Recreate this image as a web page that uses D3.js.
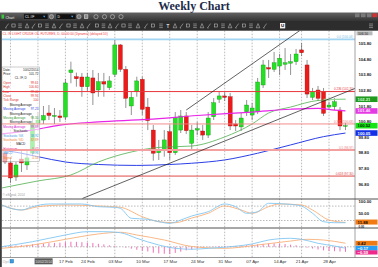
<!DOCTYPE html>
<html lang="en">
<head>
    <meta charset="UTF-8">
    <title>Weekly Chart</title>
    <script src="https://d3js.org/d3.v7.min.js"></script>
    <style>
        body { margin: 0; padding: 0; background-color: #ffffff; }
        #chart { display: block; font-family: 'Liberation Sans', Arial, sans-serif; }
    </style>
</head>
<body>
<svg id="chart" width="378" height="267"></svg>
<script>
    // daily bars, 31 Jan - 1 May 2014
    const days = ["2014-01-31",
        "2014-02-03","2014-02-04","2014-02-05","2014-02-06","2014-02-07",
        "2014-02-10","2014-02-11","2014-02-12","2014-02-13","2014-02-14",
        "2014-02-18","2014-02-19","2014-02-20","2014-02-21",
        "2014-02-24","2014-02-25","2014-02-26","2014-02-27","2014-02-28",
        "2014-03-03","2014-03-04","2014-03-05","2014-03-06","2014-03-07",
        "2014-03-10","2014-03-11","2014-03-12","2014-03-13","2014-03-14",
        "2014-03-17","2014-03-18","2014-03-19","2014-03-20","2014-03-21",
        "2014-03-24","2014-03-25","2014-03-26","2014-03-27","2014-03-28",
        "2014-03-31","2014-04-01","2014-04-02","2014-04-03","2014-04-04",
        "2014-04-07","2014-04-08","2014-04-09","2014-04-10","2014-04-11",
        "2014-04-14","2014-04-15","2014-04-16","2014-04-17",
        "2014-04-21","2014-04-22","2014-04-23","2014-04-24","2014-04-25",
        "2014-04-28","2014-04-29","2014-04-30","2014-05-01"];

    const opens  = [98.77, 98.14, 97.24, 98.39, 98.01, 98.77, 100.69, 100.88, 101.33, 101.11, 101.14,
        101.07, 103.91, 103.65, 103.63, 103.01, 103.57, 102.80, 103.33, 102.95, 103.80, 105.68, 104.12,
        101.78, 102.69, 103.48, 101.71, 100.24, 98.79, 98.97, 100.14, 98.79, 100.24, 101.14, 99.39,
        100.24, 100.18, 99.92, 101.09, 102.21, 102.42, 102.37, 100.63, 100.44, 101.41, 101.20, 101.41,
        103.12, 104.23, 104.12, 104.33, 104.44, 104.51, 104.61, 105.36, 104.40, 102.33, 102.80, 102.69,
        101.71, 101.73, 101.52, 100.48];
    const highs  = [98.97, 98.46, 98.20, 98.97, 98.97, 101.20, 101.39, 101.78, 101.84, 101.65, 101.52,
        103.50, 104.61, 103.91, 103.89, 103.89, 104.08, 103.89, 103.89, 103.69, 105.99, 105.74, 104.33,
        102.69, 103.65, 103.65, 102.29, 100.56, 99.61, 100.24, 100.56, 101.39, 101.52, 101.39, 100.56,
        100.76, 100.56, 101.39, 102.29, 102.67, 102.67, 102.61, 100.88, 101.33, 102.16, 101.97, 103.57,
        104.72, 104.72, 105.23, 105.10, 105.48, 105.10, 105.42, 105.80, 104.72, 102.93, 103.06, 102.93,
        102.05, 102.29, 101.71, 100.69];
    const lows   = [98.07, 96.86, 96.99, 97.56, 97.69, 98.58, 100.44, 100.63, 100.88, 100.63, 100.76,
        100.88, 103.23, 103.01, 102.37, 102.69, 101.84, 102.37, 102.37, 102.80, 103.63, 103.95, 101.65,
        101.20, 102.37, 101.20, 100.24, 98.28, 98.33, 98.54, 98.33, 98.65, 100.05, 99.99, 98.97,
        99.92, 99.61, 99.73, 100.88, 101.97, 102.10, 100.24, 100.18, 100.18, 101.14, 100.88, 101.27,
        102.93, 103.57, 103.95, 103.76, 104.08, 103.76, 104.40, 104.97, 102.29, 102.16, 102.10, 101.14,
        101.52, 101.52, 100.24, 100.24];
    const closes = [98.20, 97.18, 98.01, 98.14, 98.46, 100.69, 100.88, 101.17, 101.17, 101.17, 101.04,
        103.25, 104.08, 103.52, 103.01, 103.63, 102.61, 103.33, 103.18, 103.38, 105.68, 104.12, 102.27,
        102.33, 103.38, 101.57, 100.84, 98.76, 98.92, 99.61, 98.79, 101.06, 101.14, 100.20, 100.24,
        100.33, 99.92, 101.01, 101.99, 102.42, 102.33, 100.50, 100.50, 101.01, 101.84, 101.65, 103.31,
        104.40, 104.14, 104.54, 104.83, 104.54, 104.61, 105.10, 105.18, 102.54, 102.69, 102.27, 101.31,
        101.84, 102.05, 100.50, 100.52];

    // moving averages: [bar index, price]
    const maBlue = [[-0.6, 98.97], [3, 98.76], [6, 98.54], [11, 98.20], [17, 98.04], [24, 97.98], [30, 98.04],
        [34, 98.12], [40, 98.33], [46, 98.76], [52, 99.29], [58, 99.82], [62, 100.05]];
    const maGreen = [[-0.6, 96.54], [6, 96.99], [12, 97.37], [17, 98.20], [23, 98.84], [28, 99.13], [34, 99.22],
        [40, 99.80], [45, 100.63], [48, 101.33], [52, 101.71], [57, 102.13], [62, 102.21]];
    const maMagenta = [[-0.6, 99.99], [5, 100.24], [10, 100.56], [17, 100.76], [26, 100.92], [35, 101.17],
        [45, 101.39], [52, 101.57], [57, 101.63], [60, 101.52], [62, 101.46]];

    // stochastic %K / %D
    const stochK = [[-0.6, 84.6], [1, 70.8], [3, 63.8], [5, 77.5], [8, 88.8], [14, 88.8], [17, 77.5], [20, 75],
        [21, 70.8], [23, 29.2], [26, 25], [28, 15], [30, 8.3], [32, 22], [34, 38.8], [37, 56.7], [40, 88.8],
        [42, 77.5], [44, 50], [46, 56.7], [48, 91.7], [51, 88.8], [53, 84.6], [54, 80.4], [56, 50], [58, 15],
        [60, 10.8], [62, 10.8]];
    const stochD = [[-0.6, 84.6], [3, 63.8], [6, 77.5], [11, 84.6], [17, 80.4], [21, 75], [25, 35.8], [28, 15],
        [31, 10.8], [34, 30.4], [37, 50], [40, 80.4], [43, 63.8], [45, 50], [48, 77.5], [50, 88.8], [54, 84.6],
        [56, 63.8], [59, 22], [62, 11.88]];

    // MACD, signal and histogram
    const macdLine = [[-0.6, 0.01], [5, 0.60], [11, 1.39], [15, 1.78], [18, 1.78], [21, 1.66], [24, 1.0], [28, 0.21],
        [31, -0.18], [34, -0.29], [37, -0.18], [41, 0.01], [45, 0.33], [48, 0.80], [52, 1.0], [54, 0.88],
        [57, 0.41], [60, 0.09], [62, -0.17]];
    const macdSignal = [[-0.6, -0.18], [5, 0.21], [11, 0.88], [17, 1.51], [21, 1.71], [24, 1.39], [29, 0.80],
        [34, 0.04], [40, -0.18], [46, 0.21], [52, 0.68], [55, 0.88], [58, 0.80], [62, 0.42]];
    const macdHist = [0.10, 0.12, 0.15, 0.18, 0.22, 0.30, 0.35, 0.38, 0.42, 0.45, 0.48, 0.55, 0.60, 0.58, 0.55,
        0.50, 0.45, 0.35, 0.28, 0.18, 0.12, 0.02, -0.10, -0.22, -0.35, -0.45, -0.55, -0.70, -0.78, -0.82, -0.85,
        -0.72, -0.58, -0.42, -0.32, -0.22, -0.12, -0.05, 0.03, 0.08, 0.10, 0.08, 0.10, 0.14, 0.18, 0.22, 0.28,
        0.34, 0.38, 0.40, 0.38, 0.32, 0.25, 0.18, 0.06, -0.10, -0.20, -0.32, -0.42, -0.48, -0.52, -0.56, -0.59];

    // fibonacci levels and drawn lines
    const fibLevels = ["0.236", "0.382", "0.5", "0.618"];
    const fibPrices = [102.70, 100.63, 98.97, 97.30];
    const topLinePrice = 106.04;
    const upperTrend = [[33, 101.52], [53.8, 106.63]];
    const lowerTrend = [[14.1, 95.87], [63.8, 102.91]];

    // weekly gridlines; the first two date labels sit under the legend / cursor tag
    const gridDays = ["2014-02-03", "2014-02-10", "2014-02-18", "2014-02-24", "2014-03-03", "2014-03-10",
        "2014-03-17", "2014-03-24", "2014-03-31", "2014-04-07", "2014-04-14", "2014-04-21", "2014-04-28"];
    const labelDays = gridDays.slice(2);
    const tickLabels = ["17 Feb", "24 Feb", "03 Mar", "10 Mar", "17 Mar", "24 Mar",
        "31 Mar", "07 Apr", "14 Apr", "21 Apr", "28 Apr"];
    const priceTicks = [96.80, 97.80, 98.80, 99.80, 100.80, 101.80, 102.80, 103.80, 104.80, 105.80];
    const stochTicks = [50, 100];
    const stochLevels = [20, 80];

    const windowLabels = ["Date", "Price", "CL #F, D", "Open", "High", "Low", "Close", "Tick Range",
        "Moving Average", "Moving Average", "Moving Average", "Moving Average", "Moving Average", "Moving Average",
        "Stochastic", "Stochastic %K", "Stochastic %D", "MACD", "Histogram", "MACD", "Signal"];
    const windowValues = ["10/02/2014", "101.72", "", "99.61", "100.60", "99.44", "99.94", "100",
        "", "97.23", "", "98.30", "", "99.89", "", "38.92", "32.89", "", "0.42", "0.96", "0.54"];

    const W = 378, H = 267;
    const plotL = 2, plotR = 355;
    const pTop = 30.7, pBot = 199, sBot = 228, mBot = 257.5;

    const svg = d3.select("#chart");
    const defs = svg.append("defs");
    const fmt = d3.format(".2f");

    const x = d3.scaleLinear().domain([0, days.length - 1]).range([5, 345.5]);
    const yP = d3.scaleLinear().domain([96.80, 105.80]).range([183.9, 43.05]);
    const yS = d3.scaleLinear().domain([0, 100]).range([225.3, 201.3]);
    const yM = d3.scaleLinear().domain([0, 1]).range([246.8, 238.3]);

    function clip(id, y0, y1) {
        defs.append("clipPath").attr("id", id).append("rect")
            .attr("x", plotL).attr("y", y0).attr("width", plotR - plotL).attr("height", y1 - y0);
    }
    clip("clipP", pTop, pBot);
    clip("clipS", pBot, sBot);
    clip("clipM", sBot, mBot);

    svg.append("rect").attr("width", W).attr("height", H).attr("fill", "#ffffff");

    // weekly gridlines
    const gi = gridDays.map(d => days.indexOf(d));
    svg.append("g").selectAll("line").data(gi).join("line")
        .attr("x1", d => x(d)).attr("x2", d => x(d)).attr("y1", pTop).attr("y2", mBot)
        .attr("stroke", "#8c8c8c").attr("stroke-width", 0.6).attr("stroke-dasharray", "1.5,1.5");

    // price panel
    const pg = svg.append("g").attr("clip-path", "url(#clipP)");
    const bars = days.map((d, i) => ({i: i, o: opens[i], h: highs[i], l: lows[i], c: closes[i]}));

    pg.selectAll("line.wick").data(bars).join("line").attr("class", "wick")
        .attr("x1", d => x(d.i)).attr("x2", d => x(d.i))
        .attr("y1", d => yP(d.h)).attr("y2", d => yP(d.l))
        .attr("stroke", "#4a4a4a").attr("stroke-width", 0.6);

    pg.selectAll("rect.body").data(bars).join("rect").attr("class", "body")
        .attr("x", d => x(d.i) - 2).attr("width", 4)
        .attr("y", d => yP(Math.max(d.o, d.c)))
        .attr("height", d => Math.max(0.7, Math.abs(yP(d.o) - yP(d.c))))
        .attr("fill", d => d.c >= d.o ? "#22e022" : "#ee1a1a")
        .attr("stroke", d => d.c >= d.o ? "#0c8c0c" : "#9a0c0c")
        .attr("stroke-width", 0.35);

    const lineP = d3.line().x(d => x(d[0])).y(d => yP(d[1])).curve(d3.curveMonotoneX);
    [[maBlue, "#2b3fe6", 1], [maGreen, "#4fb04f", 0.8], [maMagenta, "#e825e8", 1.2]].forEach(m => {
        pg.append("path").attr("d", lineP(m[0])).attr("fill", "none")
            .attr("stroke", m[1]).attr("stroke-width", m[2]);
    });
    const lastGreen = maGreen[maGreen.length - 1];
    pg.append("line").attr("x1", x(58)).attr("x2", x(lastGreen[0]))
        .attr("y1", yP(lastGreen[1])).attr("y2", yP(lastGreen[1]))
        .attr("stroke", "#a4e2a4").attr("stroke-width", 1.2);

    // data window
    const box = svg.append("g");
    box.append("rect").attr("x", 2).attr("y", 67).attr("width", 37.5).attr("height", 94.5)
        .attr("fill", "#ffffff").attr("fill-opacity", 0.62).attr("stroke", "#9a9a9a").attr("stroke-width", 0.5);
    const red = "#e03030";
    const rowColors = ["#222", "#222", "#222", red, red, red, red, red, "#222", "#2b3fe6", "#222", "#3a9a3a",
        "#222", "#d020d0", "#222", "#3a9ae0", "#f08030", "#222", "#f0288c", "#3a9ae0", "#f08030"];
    windowLabels.forEach((lab, k) => {
        const yy = 70.6 + k * 4.4;
        const centre = windowValues[k] === "";
        box.append("text").attr("x", centre ? 20.7 : 3.3).attr("y", yy)
            .attr("text-anchor", centre ? "middle" : "start")
            .attr("font-size", 3.1).attr("fill", rowColors[k]).text(lab);
        if (!centre) {
            box.append("text").attr("x", 38.4).attr("y", yy).attr("text-anchor", "end")
                .attr("font-size", 3.1).attr("fill", rowColors[k]).text(windowValues[k]);
        }
    });

    // fib levels, horizontal and trend lines
    const fg = svg.append("g").attr("clip-path", "url(#clipP)");
    fg.append("line").attr("x1", plotL).attr("x2", plotR).attr("y1", yP(topLinePrice)).attr("y2", yP(topLinePrice))
        .attr("stroke", "#a2d4f4").attr("stroke-width", 1.8);
    fg.append("text").attr("x", 353).attr("y", yP(topLinePrice) - 1.3).attr("text-anchor", "end")
        .attr("font-size", 3).attr("fill", "#7cbce6").text("0.0 (" + fmt(topLinePrice) + ")");
    const fibColors = ["#e8353a", "#f08080", "#f5a0a0", "#e04848"];
    const fibText = ["#e8353a", "#ee7070", "#e98080", "#e04848"];
    const fibWidths = [1, 0.9, 2, 1];
    fibPrices.forEach((p, k) => {
        fg.append("line").attr("x1", plotL).attr("x2", plotR).attr("y1", yP(p)).attr("y2", yP(p))
            .attr("stroke", fibColors[k]).attr("stroke-width", fibWidths[k]);
        fg.append("text").attr("x", 353.5).attr("y", yP(p) - 1.4).attr("text-anchor", "end")
            .attr("font-size", 3).attr("fill", fibText[k]).text(fibLevels[k] + " (" + fmt(p) + ")");
    });
    const lineT = d3.line().x(d => x(d[0])).y(d => yP(d[1]));
    [upperTrend, lowerTrend].forEach(t => {
        fg.append("path").attr("d", lineT(t)).attr("fill", "none")
            .attr("stroke", "#1e1e1e").attr("stroke-width", 0.7);
    });

    svg.append("text").attr("x", 2.6).attr("y", 34.7).attr("font-size", 3.2).attr("fill", "#f03c3c")
        .text("CL #F LIGHT CRUDE OIL FUTURES, D, 00:00:00 (Dynamic) (delayed 10)");
    svg.append("text").attr("x", 2.6).attr("y", 196).attr("font-size", 3.1).attr("fill", "#9a9a9a")
        .text("\u00a9 eSignal, 2014");

    // stochastic panel
    const sg = svg.append("g").attr("clip-path", "url(#clipS)");
    sg.selectAll("line").data(stochLevels).join("line")
        .attr("x1", plotL).attr("x2", plotR).attr("y1", d => yS(d)).attr("y2", d => yS(d))
        .attr("stroke", "#8c8c8c").attr("stroke-width", 0.6).attr("stroke-dasharray", "1.5,1.5");
    const lineS = d3.line().x(d => x(d[0])).y(d => yS(d[1])).curve(d3.curveMonotoneX);
    sg.append("path").attr("d", lineS(stochD)).attr("fill", "none").attr("stroke", "#f7b07a").attr("stroke-width", 0.9);
    sg.append("path").attr("d", lineS(stochK)).attr("fill", "none").attr("stroke", "#82c6f2").attr("stroke-width", 0.9);

    // MACD panel
    const mg = svg.append("g").attr("clip-path", "url(#clipM)");
    mg.append("line").attr("x1", plotL).attr("x2", plotR).attr("y1", yM(0)).attr("y2", yM(0))
        .attr("stroke", "#8c8c8c").attr("stroke-width", 0.6).attr("stroke-dasharray", "1.5,1.5");
    mg.selectAll("line.hist").data(macdHist).join("line").attr("class", "hist")
        .attr("x1", (d, i) => x(i)).attr("x2", (d, i) => x(i))
        .attr("y1", yM(0)).attr("y2", d => yM(d))
        .attr("stroke", "#f060b0").attr("stroke-width", 0.9);
    const lineM = d3.line().x(d => x(d[0])).y(d => yM(d[1])).curve(d3.curveMonotoneX);
    mg.append("path").attr("d", lineM(macdSignal)).attr("fill", "none").attr("stroke", "#f7b07a").attr("stroke-width", 0.9);
    mg.append("path").attr("d", lineM(macdLine)).attr("fill", "none").attr("stroke", "#82c6f2").attr("stroke-width", 0.9);

    // frame lines
    svg.append("line").attr("x1", plotR).attr("x2", plotR).attr("y1", pTop).attr("y2", mBot)
        .attr("stroke", "#8a8a8a").attr("stroke-width", 0.8);
    [pBot, sBot].forEach(yy => {
        svg.append("line").attr("x1", plotL).attr("x2", W).attr("y1", yy).attr("y2", yy)
            .attr("stroke", "#505050").attr("stroke-width", 1);
    });
    svg.append("line").attr("x1", plotL).attr("x2", W).attr("y1", mBot).attr("y2", mBot)
        .attr("stroke", "#6a6a6a").attr("stroke-width", 0.7);
    svg.append("rect").attr("x", 0).attr("y", pTop).attr("width", 1.8).attr("height", H - pTop).attr("fill", "#3c3c3c");

    // right axes
    function styleAxis(g) {
        g.select(".domain").remove();
        g.attr("font-size", 4.2).attr("font-family", "'Liberation Sans', Arial, sans-serif")
            .attr("font-weight", "bold");
        g.selectAll("text").attr("fill", "#222");
    }
    svg.append("g").attr("transform", `translate(${plotR},0)`)
        .call(d3.axisRight(yP).tickValues(priceTicks).tickFormat(fmt).tickSize(0).tickPadding(3.5))
        .call(styleAxis);
    svg.append("g").attr("transform", `translate(${plotR},0)`)
        .call(d3.axisRight(yS).tickValues(stochTicks).tickFormat(fmt).tickSize(0).tickPadding(3.5))
        .call(styleAxis);
    // the 0.00 label peeks out just under the %D tag
    svg.append("text").attr("x", 358.5).attr("y", 227.9).attr("font-size", 2.9).attr("font-weight", "bold")
        .attr("fill", "#222").text(fmt(0));

    svg.append("rect").attr("x", 356.5).attr("y", 31.3).attr("width", 16).attr("height", 4)
        .attr("fill", "#b8b8b8");
    svg.append("text").attr("x", 358).attr("y", 34.5).attr("font-size", 3.3).attr("fill", "#222").text("106.50");

    function tag(yy, value, bg, fg, h) {
        h = h || 5.6;
        svg.append("rect").attr("x", 355.5).attr("y", yy - h / 2).attr("width", 22).attr("height", h).attr("fill", bg);
        svg.append("text").attr("x", 357.6).attr("y", yy + 1.5).attr("font-size", 4.2).attr("font-weight", "bold")
            .attr("fill", fg).text(fmt(value));
    }
    const last = a => a[a.length - 1][1];
    tag(yP(last(maGreen)), last(maGreen), "#1e9a1e", "#d6ffd6");
    tag(yP(last(maMagenta)), last(maMagenta), "#e43ce4", "#ffe0ff");
    tag(yP(closes[closes.length - 1]), closes[closes.length - 1], "#16e416", "#002200");
    tag(yP(last(maBlue)), last(maBlue), "#1230e8", "#ffffff");
    tag(yS(last(stochD)) - 0.4, last(stochD), "#f27a12", "#1a0a00", 5);
    tag(yM(last(macdSignal)), last(macdSignal), "#f27a12", "#1a0a00", 4.8);
    tag(yM(last(macdLine)), last(macdLine), "#2a9df4", "#ffffff", 4.8);
    tag(yM(macdHist[macdHist.length - 1]) + 0.6, macdHist[macdHist.length - 1], "#f0288c", "#ffffff", 4.2);

    // date axis
    const li = labelDays.map(d => days.indexOf(d));
    svg.append("g").attr("transform", `translate(0,${mBot})`)
        .call(d3.axisBottom(x).tickValues(li).tickFormat((d, k) => tickLabels[k]).tickSize(0).tickPadding(2.2))
        .call(g => {
            g.select(".domain").remove();
            g.attr("font-size", 4.4).attr("font-family", "'Liberation Sans', Arial, sans-serif");
            g.selectAll("text").attr("fill", "#333");
        });
    svg.append("text").attr("x", 2.6).attr("y", 262.6).attr("font-size", 3.8).attr("fill", "#aaaaaa").text("Opt");
    svg.append("rect").attr("x", 10).attr("y", 259.4).attr("width", 3.6).attr("height", 3.6)
        .attr("fill", "#3b9de0").attr("stroke", "#1a6aa0").attr("stroke-width", 0.4);
    svg.append("rect").attr("x", 34.6).attr("y", 258.3).attr("width", 18).attr("height", 6).attr("fill", "#5a5a5a");
    svg.append("text").attr("x", 43.6).attr("y", 262.6).attr("text-anchor", "middle").attr("font-size", 3.3)
        .attr("fill", "#e8e8e8").text("10/02/2014");

    // toolbar
    const grad = defs.append("linearGradient").attr("id", "tbTop").attr("x1", 0).attr("y1", 0).attr("x2", 0).attr("y2", 1);
    grad.append("stop").attr("offset", "0%").attr("stop-color", "#626262");
    grad.append("stop").attr("offset", "100%").attr("stop-color", "#343434");
    const tb = svg.append("g");
    tb.append("rect").attr("x", 0).attr("y", 12.5).attr("width", W).attr("height", 8.5).attr("fill", "url(#tbTop)");
    tb.append("rect").attr("x", 0).attr("y", 21).attr("width", W).attr("height", 9.7).attr("fill", "#2d2d2d");
    tb.append("rect").attr("x", 1.5).attr("y", 14.6).attr("width", 2.6).attr("height", 4).attr("fill", "#3cc83c");
    tb.append("text").attr("x", 5.5).attr("y", 18.5).attr("font-size", 3.6).attr("fill", "#eeeeee").text("Chart");
    [[23.5, 24.5, "CL #F"], [56, 20, "D"]].forEach(b => {
        tb.append("rect").attr("x", b[0]).attr("y", 13.8).attr("width", b[1]).attr("height", 5.8).attr("rx", 0.6)
            .attr("fill", "#111111").attr("stroke", "#777777").attr("stroke-width", 0.4);
        tb.append("text").attr("x", b[0] + 1.6).attr("y", 18.1).attr("font-size", 3.4).attr("fill", "#ffffff").text(b[2]);
        tb.append("path").attr("d", `M${b[0] + b[1] - 5},15.8 h2.4 l-1.2,1.6 z`).attr("fill", "#4aa8ff");
    });
    [51.5, 79, 96, 104.5, 112.5, 121].forEach((cx, k) => {
        tb.append("circle").attr("cx", cx).attr("cy", 16.7).attr("r", 2.1)
            .attr("fill", k < 2 ? "#777777" : "none").attr("stroke", "#dddddd").attr("stroke-width", 0.5);
    });
    tb.append("rect").attr("x", 84.3).attr("y", 14.8).attr("width", 3.6).attr("height", 3.8)
        .attr("fill", "#888").attr("stroke", "#eee").attr("stroke-width", 0.5);
    [355, 361, 367].forEach(bx => tb.append("rect").attr("x", bx).attr("y", 13.4).attr("width", 4.5).attr("height", 3.8).attr("fill", "#7a7a7a"));
    tb.append("rect").attr("x", 372.5).attr("y", 13.4).attr("width", 4.5).attr("height", 3.8).attr("fill", "#d83030");

    const toolIcons = [7, 13.5, 20, 27, 33.5, 40, 47, 54, 61, 68.5, 75, 82, 88.5, 97, 103.5, 110, 117, 123.5, 130,
        138, 146, 153, 161, 175, 181.5, 188, 195, 202, 209, 216, 223, 230, 237, 244, 251, 258, 265];
    toolIcons.forEach((cx, k) => {
        const t = k % 4;
        let el;
        if (t === 0) el = tb.append("path").attr("d", `M${cx - 1.6},28 L${cx + 1.6},23.6 M${cx - 1.6},28 h1.2`);
        else if (t === 1) el = tb.append("rect").attr("x", cx - 1.6).attr("y", 24).attr("width", 3.2).attr("height", 3);
        else if (t === 2) el = tb.append("path").attr("d", `M${cx - 1.8},27.6 h3.6 M${cx - 1.8},25.8 h3.6 M${cx - 1.8},24 h3.6`);
        else el = tb.append("path").attr("d", `M${cx - 1.8},27.8 L${cx},23.6 L${cx + 1.8},27.8 z`);
        el.attr("fill", "none").attr("stroke", "#c4c4c4").attr("stroke-width", 0.55);
    });
    tb.append("text").attr("x", 168).attr("y", 28).attr("text-anchor", "middle").attr("font-size", 4.6)
        .attr("font-weight", "bold").attr("fill", "#dddddd").text("T");
    tb.append("rect").attr("x", 280).attr("y", 23).attr("width", 5.2).attr("height", 5.4).attr("fill", "#f2f2f2");
    tb.append("text").attr("x", 282.6).attr("y", 27.4).attr("text-anchor", "middle").attr("font-size", 4.4)
        .attr("font-weight", "bold").attr("fill", "#000").text("U");
    tb.append("path").attr("d", "M369,24 h4 M369,25.8 h4 M369,27.6 h4").attr("stroke", "#c4c4c4").attr("stroke-width", 0.55);

    // title
    svg.append("text").attr("x", 194).attr("y", 10.3).attr("text-anchor", "middle")
        .attr("font-family", "'Liberation Serif', 'Times New Roman', serif").attr("font-weight", "bold")
        .attr("font-size", 12).attr("fill", "#1c2b4a").text("Weekly Chart");
</script>
</body>
</html>
